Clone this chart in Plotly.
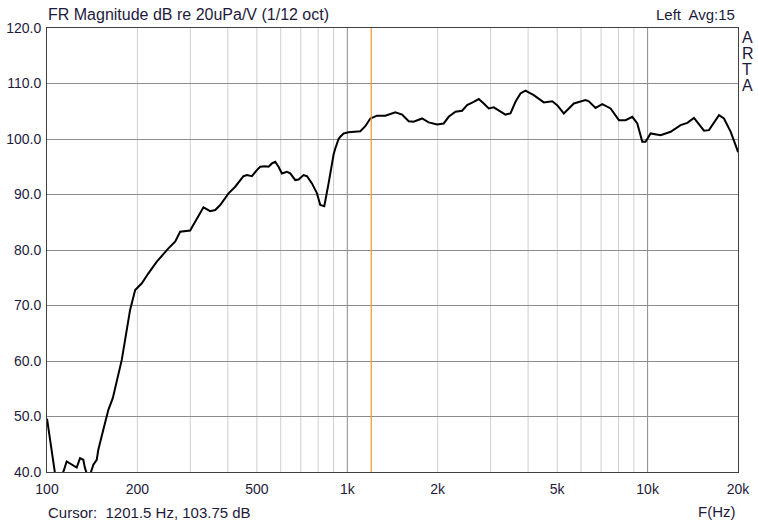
import plotly.graph_objects as go

# Frequency response data (Hz, dB)
freq_hz = [100, 103.5, 106.3, 110, 113.3, 116.3, 122.4, 125.6, 128.8, 132.1, 133.8, 135.6,
           139.1, 142.7, 146.4, 148.2, 154.0, 160.1, 165.6, 170.8, 177.4, 182.0, 189.1,
           196.6, 206.9, 217.6, 232.1, 253.7, 267.1, 277.6, 299.7, 311.4, 323.6, 331.9,
           349.5, 363.1, 377.3, 402.3, 423.4, 451.1, 463.1, 481.2, 500.0, 512.9, 533.0,
           546.7, 561.1, 575.4, 590.2, 605.8, 629.5, 645.7, 671.0, 688.2, 715.1, 734.0,
           762.6, 792.5, 812.8, 838.1, 866.3, 880.0, 900.2, 912.0, 935.4, 947.7, 972.0,
           1010, 1105, 1148, 1193, 1256, 1339, 1445, 1522, 1601, 1663, 1774, 1866, 1991,
           2094, 2176, 2291, 2412, 2506, 2636, 2740, 2847, 2958, 3074, 3194, 3363, 3494,
           3631, 3773, 3920, 4178, 4512, 4813, 5000, 5260, 5680, 6214, 6373, 6709, 7063,
           7529, 8025, 8448, 8892, 9240, 9601, 9847, 10233, 11050, 11930, 12880, 13560,
           14270, 15410, 16010, 17290, 17960, 18910, 19910, 20000]
mag_db = [49.6, 44.5, 39.8, 39.3, 40.0, 41.9, 41.1, 40.8, 42.5, 42.2, 40.7, 39.8,
          39.5, 41.3, 42.2, 44.0, 47.6, 51.2, 53.3, 56.6, 60.2, 63.8, 69.2,
          72.8, 74.0, 75.8, 77.9, 80.3, 81.5, 83.3, 83.5, 85.1, 86.6, 87.7,
          87.0, 87.2, 88.1, 90.2, 91.4, 93.3, 93.5, 93.3, 94.4, 95.0, 95.1,
          95.0, 95.6, 95.9, 95.0, 93.8, 94.1, 93.8, 92.6, 92.7, 93.5, 93.3,
          92.0, 90.2, 88.1, 87.9, 92.0, 94.2, 97.2, 98.3, 100.0, 100.4, 101.0,
          101.2, 101.4, 102.3, 103.7, 104.2, 104.2, 104.8, 104.4, 103.2, 103.1, 103.7, 103.0, 102.6,
          102.8, 104.0, 104.9, 105.1, 106.1, 106.7, 107.2, 106.4, 105.5, 105.7, 105.2, 104.4, 104.6,
          106.7, 108.2, 108.7, 107.9, 106.6, 106.8, 106.1, 104.6, 106.4, 107.0, 106.8, 105.6, 106.3,
          105.5, 103.4, 103.4, 104.0, 102.8, 99.5, 99.5, 101.0, 100.7, 101.3, 102.5, 102.9,
          103.8, 101.5, 101.6, 104.3, 103.7, 101.3, 98.0, 97.6]

x_tick_vals = [100, 200, 500, 1000, 2000, 5000, 10000, 20000]
x_tick_text = ["100", "200", "500", "1k", "2k", "5k", "10k", "20k"]
minor_grid_hz = [200, 300, 400, 500, 600, 700, 800, 900,
                 2000, 3000, 4000, 5000, 6000, 7000, 8000, 9000]
decade_grid_hz = [1000, 10000]
y_tick_vals = [40, 50, 60, 70, 80, 90, 100, 110, 120]
cursor_hz = 1201.5
cursor_db = 103.75

text_color = "#1e1a3c"
font_family = "Liberation Sans, Arial, sans-serif"

fig = go.Figure()
fig.add_trace(go.Scatter(x=freq_hz, y=mag_db, mode="lines",
                         line=dict(color="#000000", width=2), hoverinfo="skip"))

shapes = []
for f in minor_grid_hz:
    shapes.append(dict(type="line", xref="x", yref="paper", x0=f, x1=f, y0=0, y1=1,
                       line=dict(color="#cfcfcf", width=1), layer="below"))
for f in decade_grid_hz:
    shapes.append(dict(type="line", xref="x", yref="paper", x0=f, x1=f, y0=0, y1=1,
                       line=dict(color="#8a8a8a", width=1), layer="below"))
shapes.append(dict(type="line", xref="x", yref="paper", x0=cursor_hz, x1=cursor_hz, y0=0, y1=1,
                   line=dict(color="#f0962e", width=1.2)))

annotations = [
    dict(text="FR Magnitude dB re 20uPa/V (1/12 oct)", xref="paper", yref="paper",
         x=0.0, y=1.0, xanchor="left", yanchor="middle", yshift=14, xshift=-1,
         showarrow=False, font=dict(size=16, color=text_color, family=font_family)),
    dict(text="Left  Avg:15", xref="paper", yref="paper", x=1.0, y=1.0,
         xanchor="right", yanchor="middle", yshift=14, xshift=-1,
         showarrow=False, font=dict(size=15, color=text_color, family=font_family)),
    dict(text="Cursor:  %.1f Hz, %.2f dB" % (cursor_hz, cursor_db), xref="paper", yref="paper",
         x=0.0, y=0.0, xanchor="left", yanchor="middle", yshift=-40, xshift=-1,
         showarrow=False, font=dict(size=15, color=text_color, family=font_family)),
    dict(text="F(Hz)", xref="paper", yref="paper", x=1.0, y=0.0,
         xanchor="right", yanchor="middle", yshift=-39, xshift=0,
         showarrow=False, font=dict(size=15, color=text_color, family=font_family)),
]
for i, ch in enumerate("ARTA"):
    annotations.append(dict(text=ch, xref="paper", yref="paper", x=1.0, y=1.0,
                            xanchor="left", yanchor="middle", xshift=2, yshift=-9 - 16.3 * i,
                            showarrow=False,
                            font=dict(size=16, color=text_color, family=font_family)))

fig.update_layout(
    width=758, height=525,
    margin=dict(l=47, r=20, t=28, b=53),
    paper_bgcolor="white", plot_bgcolor="white",
    showlegend=False,
    shapes=shapes,
    annotations=annotations,
    font=dict(family=font_family, size=14, color=text_color),
    xaxis=dict(type="log", range=[2, 4.30103], tickvals=x_tick_vals, ticktext=x_tick_text,
               showgrid=False, zeroline=False, showline=True, mirror=True, automargin=False,
               linecolor="#404040", linewidth=1, ticks="outside", ticklen=4,
               tickcolor="rgba(0,0,0,0)", tickfont=dict(size=14, color=text_color)),
    yaxis=dict(range=[40, 120], tickvals=y_tick_vals, tickformat=".1f", automargin=False,
               showgrid=True, gridcolor="#8c8c8c", gridwidth=1, zeroline=False,
               showline=True, mirror=True, linecolor="#404040", linewidth=1,
               ticks="outside", ticklen=2, tickcolor="rgba(0,0,0,0)",
               tickfont=dict(size=14, color=text_color)),
)

fig.write_html("out.html", config={"displayModeBar": False},
               post_script="document.body.style.margin='0px';document.body.style.overflow='hidden';")
